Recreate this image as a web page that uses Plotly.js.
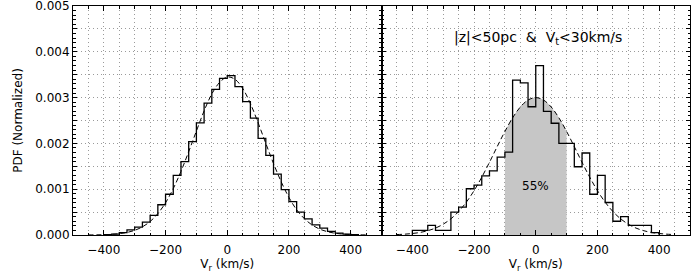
<!DOCTYPE html>
<html>
<head>
<meta charset="utf-8">
<script src="https://cdn.plot.ly/plotly-3.0.1.min.js"></script>
<style>html,body{margin:0;padding:0;background:#fff;}#chart{width:700px;height:279px;}</style>
</head>
<body>
<div id="chart"></div>
<script>
// ---- data ----
const binWidth = 25;
const leftBinStart = [-400,-375,-350,-325,-300,-275,-250,-225,-200,-175,-150,-125,-100,-75,-50,-25,0,25,50,75,100,125,150,175,200,225,250,275,300,325,350,375,400];
const leftPdf = [0.00001,0.00002,0.00005,0.00011,0.00017,0.00028,0.00043,0.00066,0.00089,0.0013,0.0016,0.00204,0.00245,0.00288,0.00318,0.00342,0.00348,0.00324,0.00291,0.00255,0.00211,0.00174,0.00133,0.00099,0.00073,0.0005,0.00035,0.00022,0.00015,0.00008,0.00004,0.00002,0.00001];

const rightBinStart = [-400,-375,-350,-325,-300,-275,-250,-225,-200,-175,-150,-125,-100,-75,-50,-25,0,25,50,75,100,125,150,175,200,225,250,275,300,325,350,375];
const rightPdf = [0.0001,0.0001,0.00021,0.0001,0.0001,0.0005,0.00061,0.00101,0.00109,0.00129,0.0014,0.0017,0.00181,0.00338,0.00332,0.0028,0.0037,0.0027,0.00244,0.002,0.002,0.00149,0.00179,0.00089,0.0013,0.00071,0.0003,0.0004,0.00021,0.00021,0.00021,0.00005];

const fitX = [-450,-425,-400,-375,-350,-325,-300,-275,-250,-225,-200,-175,-150,-125,-100,-75,-50,-25,0,25,50,75,100,125,150,175,200,225,250,275,300,325,350,375,400,425,450];
const leftFit = [0.0000019,0.0000032,0.000007,0.0000147,0.000029,0.000056,0.000102,0.000178,0.000295,0.000467,0.000704,0.001014,0.00139,0.00182,0.00227,0.00271,0.00308,0.00333,0.00345,0.0034,0.0032,0.00287,0.00245,0.002,0.00156,0.00116,0.00082,0.00055,0.000357,0.000219,0.000128,0.000072,0.000038,0.000019,0.0000094,0.0000044,0.0000019];
const rightFit = [0.0000098,0.000018,0.000033,0.000056,0.000094,0.000151,0.000236,0.000354,0.000513,0.000717,0.000968,0.001262,0.001588,0.001929,0.002261,0.002559,0.002795,0.002947,0.003,0.002947,0.002795,0.002559,0.002261,0.001929,0.001588,0.001262,0.000968,0.000717,0.000513,0.000354,0.000236,0.000151,0.000094,0.000056,0.000033,0.000018,0.0000098];

const shadeRange = [-100, 100];
const shadeLabel = '55%';
const panelLabel = '|z|<50pc  &  V<sub>t</sub><30km/s';
const xTitle = 'V<sub>r</sub> (km/s)';
const yTitle = 'PDF (Normalized)';

// ---- build ----
function stepXY(starts, vals){
  const x = [starts[0]].concat(starts, [starts[starts.length-1] + binWidth]);
  const y = [0].concat(vals, [0]);
  return {x, y};
}
const hl = stepXY(leftBinStart, leftPdf);
const hr = stepXY(rightBinStart, rightPdf);
const shadeX = [], shadeY = [];
fitX.forEach((v,i)=>{ if (v >= shadeRange[0] && v <= shadeRange[1]) { shadeX.push(v); shadeY.push(rightFit[i]); } });

const FONT = 'DejaVu Sans, Arial, sans-serif';
const dashStyle = '5px,3px';

const traces = [
  {x: shadeX, y: shadeY, xaxis:'x2', yaxis:'y2', type:'scatter', mode:'lines', fill:'tozeroy',
   fillcolor:'#c6c6c6', line:{color:'rgba(0,0,0,0)', width:0, shape:'spline'}, hoverinfo:'skip'},
  {x: hl.x, y: hl.y, xaxis:'x', yaxis:'y', type:'scatter', mode:'lines', line:{color:'#000', width:1.3, shape:'hv'}},
  {x: fitX, y: leftFit, xaxis:'x', yaxis:'y', type:'scatter', mode:'lines', line:{color:'#000', width:1, dash:dashStyle, shape:'spline'}},
  {x: hr.x, y: hr.y, xaxis:'x2', yaxis:'y2', type:'scatter', mode:'lines', line:{color:'#000', width:1.3, shape:'hv'}},
  {x: fitX, y: rightFit, xaxis:'x2', yaxis:'y2', type:'scatter', mode:'lines', line:{color:'#000', width:1, dash:dashStyle, shape:'spline'}}
];

const gridColor = '#9a9a9a';
const gridDash = '1px,3px';
function xAx(domain, anchor){
  return {
    domain: domain, anchor: anchor, range: [-500, 500], tick0: 0, dtick: 200,
    ticks: 'inside', ticklen: 5, tickwidth: 1, tickcolor: '#000',
    showline: true, linecolor: '#000', linewidth: 1, mirror: 'allticks',
    showgrid: true, gridcolor: gridColor, griddash: gridDash, gridwidth: 1,
    zeroline: false, tickfont: {family: FONT, size: 12, color: '#000'},
    ticklabelstandoff: 4,
    minor: {dtick: 50, tick0: 0, ticks: 'inside', ticklen: 2.5, tickcolor: '#000', showgrid: true, gridcolor: gridColor, griddash: gridDash, gridwidth: 1},
    title: {text: xTitle, font: {family: FONT, size: 12, color: '#000'}, standoff: 3}
  };
}
function yAx(anchor, labels){
  return {
    domain: [0, 1], anchor: anchor, range: [0, 0.0050001],
    tick0: 0, dtick: 0.0005, ticklabelstep: 2, tickformat: '.3f',
    ticklabeloverflow: 'allow',
    ticks: 'inside', ticklen: 4, tickwidth: 1, tickcolor: '#000',
    showline: true, linecolor: '#000', linewidth: 1, mirror: 'allticks',
    showgrid: true, gridcolor: gridColor, griddash: gridDash, gridwidth: 1,
    zeroline: false, showticklabels: labels,
    tickfont: {family: FONT, size: 12, color: '#000'},
    minor: {dtick: 0.0001, tick0: 0, ticks: 'inside', ticklen: 2.5, tickcolor: '#000', showgrid: false}
  };
}

const layout = {
  width: 700, height: 279,
  margin: {l: 73, r: 10, t: 6, b: 44},
  paper_bgcolor: '#fff', plot_bgcolor: 'rgba(0,0,0,0)',
  showlegend: false,
  font: {family: FONT, size: 12, color: '#000'},
  xaxis: xAx([0, 0.5], 'y'),
  xaxis2: xAx([0.5, 1], 'y2'),
  yaxis: Object.assign(yAx('x', true), {title: {text: yTitle, font: {family: FONT, size: 12, color: '#000'}, standoff: 10}}),
  yaxis2: yAx('x2', false),
  annotations: [
    {xref: 'x2', yref: 'y2', x: 0, y: 0.00107, text: shadeLabel, showarrow: false, font: {family: FONT, size: 12, color: '#000'}},
    {xref: 'x2', yref: 'y2', x: -272, y: 0.0043, xanchor: 'left', yanchor: 'middle', text: panelLabel, showarrow: false, font: {family: FONT, size: 14, color: '#000'}}
  ]
};

Plotly.newPlot('chart', traces, layout, {displayModeBar: false, staticPlot: true});
</script>
</body>
</html>
